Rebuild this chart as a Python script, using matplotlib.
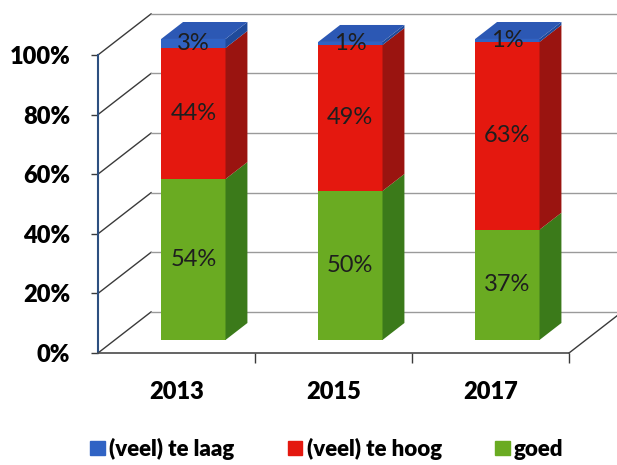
import matplotlib.pyplot as plt
from matplotlib.patches import Polygon, Patch

plt.rcParams["font.family"] = ["Lato", "DejaVu Sans"]

years = ["2013", "2015", "2017"]
te_laag = [3, 1, 1]
te_hoog = [44, 49, 63]
goed = [54, 50, 37]
yticks = [0, 20, 40, 60, 80, 100]

# stacked bottom to top: (label, values, front, side, top)
series = [
    ("goed", goed, "#6aab22", "#3b7a1a", "#88c43a"),
    ("(veel) te hoog", te_hoog, "#e4180f", "#9a1410", "#f03a30"),
    ("(veel) te laag", te_laag, "#3063c4", "#1f4a9a", "#2c58b4"),
]

# oblique depth of the floor, in axis units
DX, DY = 0.338, 13.8
D0, D1 = 0.317, 0.73   # front/back of the columns as a fraction of depth
BAR_W = 0.41

fig = plt.figure(figsize=(6.17, 4.65), dpi=100)
ax = fig.add_axes([98 / 617, 112 / 465, 471 / 617, 298 / 465])
ax.set_xlim(0, 3)
ax.set_ylim(0, 100)

# walls and floor
for v in yticks:
    ax.plot([0, DX], [v, v + DY], color="#3a3a3a", lw=1, clip_on=False, zorder=1)
    ax.plot([DX, 3 + DX], [v + DY, v + DY], color="#9a9a9a", lw=1, clip_on=False, zorder=1)
ax.plot([3, 3 + DX], [0, DY], color="#3a3a3a", lw=1, clip_on=False, zorder=1)

ddx = (D1 - D0) * DX
ddy = (D1 - D0) * DY
for i, year in enumerate(years):
    xl = i + 0.5 - BAR_W / 2 + D0 * DX
    xr = xl + BAR_W
    cum = D0 * DY
    for k, (name, vals, front, side, top) in enumerate(series):
        v = vals[i]
        yb, yt = cum, cum + v
        ax.bar(xl, v, width=BAR_W, bottom=yb, align="edge", color=front,
               lw=0, zorder=3, clip_on=False)
        ax.add_patch(Polygon([(xr, yb), (xr, yt), (xr + ddx, yt + ddy), (xr + ddx, yb + ddy)],
                             closed=True, color=side, lw=0, zorder=3, clip_on=False))
        if k == len(series) - 1:
            ax.add_patch(Polygon([(xl, yt), (xr, yt), (xr + ddx, yt + ddy), (xl + ddx, yt + ddy)],
                                 closed=True, color=top, lw=0, zorder=3, clip_on=False))
        ax.text(xl + BAR_W / 2, yb + v / 2, f"{v}%", ha="center", va="center",
                fontsize=17, color="#1e1e1e", zorder=4, clip_on=False)
        cum = yt

ax.set_yticks(yticks)
ax.set_yticklabels([f"{v}%" for v in yticks], fontweight="heavy", fontsize=17)
ax.set_xticks([0.5, 1.5, 2.5])
ax.set_xticklabels(years, fontweight="heavy", fontsize=17)
ax.set_xticks([1, 2, 3], minor=True)
ax.tick_params(axis="y", length=5, width=1, pad=15, color="#3a3a3a")
ax.tick_params(axis="x", which="major", length=0, pad=20)
ax.tick_params(axis="x", which="minor", length=7, width=1, color="#3a3a3a")

ax.spines["top"].set_visible(False)
ax.spines["right"].set_visible(False)
ax.spines["left"].set_color("#2d4f80")
ax.spines["left"].set_linewidth(1.5)
ax.spines["bottom"].set_color("#4a4a4a")
ax.spines["bottom"].set_linewidth(1.2)
ax.patch.set_visible(False)

handles = [Patch(color=c) for _, _, c, _, _ in reversed(series)]
labels = [n for n, _, _, _, _ in reversed(series)]
fig.legend(handles, labels, loc="lower center", bbox_to_anchor=(0.53, -0.032), ncol=3,
           frameon=False, prop={"weight": "heavy", "size": 16},
           handlelength=0.65, handleheight=0.65, handletextpad=0.2, columnspacing=2.4)

fig.savefig("out.png", dpi=100)
